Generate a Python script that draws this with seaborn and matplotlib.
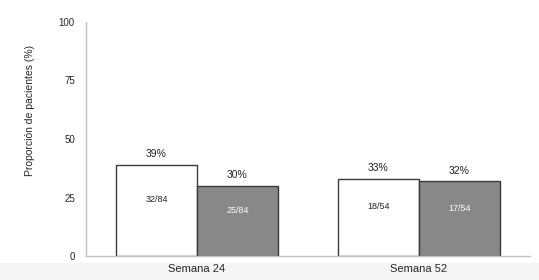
import matplotlib
matplotlib.use("Agg")
import matplotlib.pyplot as plt
import seaborn as sns
import pandas as pd

# data
weeks = ["Semana 24", "Semana 52"]
groups = ["A", "B"]
percent = {"A": [39, 33], "B": [30, 32]}
counts = {"A": ["32/84", "18/54"], "B": ["25/84", "17/54"]}
pct_labels = {"A": ["39%", "33%"], "B": ["30%", "32%"]}

rows = []
for g in groups:
    for i, w in enumerate(weeks):
        rows.append({"semana": w, "grupo": g, "pct": percent[g][i]})
df = pd.DataFrame(rows)

sns.set_style("white")
plt.rcParams["font.family"] = ["Liberation Sans", "DejaVu Sans"]

fig = plt.figure(figsize=(5.39, 2.8), dpi=100)
fig.patch.set_facecolor("white")
# light band at the bottom of the picture
fig.patches.append(plt.Rectangle((0, 0), 1, 17 / 280, transform=fig.transFigure,
                                 facecolor="#f4f4f4", edgecolor="none", zorder=-10))
ax = fig.add_axes([86 / 539, 1 - 256 / 280, 444 / 539, 234 / 280])
ax.set_facecolor("none")

fills = {"A": "white", "B": "#888888"}
sns.barplot(data=df, x="semana", y="pct", hue="grupo", hue_order=groups,
            palette=fills, width=0.73, edgecolor="#3a3a3a", linewidth=1.0,
            legend=False, ax=ax)

for ci, g in enumerate(groups):
    cont = ax.containers[ci]
    for bi, bar in enumerate(cont):
        h = bar.get_height()
        xc = bar.get_x() + bar.get_width() / 2
        ax.annotate(pct_labels[g][bi], (xc, h), xytext=(0, 4), textcoords="offset points",
                    ha="center", va="bottom", fontsize=7.5, color="#222222")
        ax.text(xc, h / 2 + 4.5, counts[g][bi], ha="center", va="center", fontsize=6.5,
                color="#222222" if g == "A" else "white")

ax.set_ylim(0, 100)
ax.set_xlim(-0.5, 1.5)
ax.set_yticks([0, 25, 50, 75, 100])
ax.set_xlabel("")
ax.set_ylabel("Proporción de pacientes (%)", fontsize=7.5)
ax.yaxis.set_label_coords(-0.114, 0.62)
ax.tick_params(axis="y", length=0, labelsize=7, pad=8)
ax.tick_params(axis="x", length=0, labelsize=8, pad=6)
for s in ["top", "right"]:
    ax.spines[s].set_visible(False)
for s in ["left", "bottom"]:
    ax.spines[s].set_color("#c0c0c0")
    ax.spines[s].set_linewidth(1.0)

fig.savefig("out.png", dpi=100, facecolor=fig.get_facecolor())
